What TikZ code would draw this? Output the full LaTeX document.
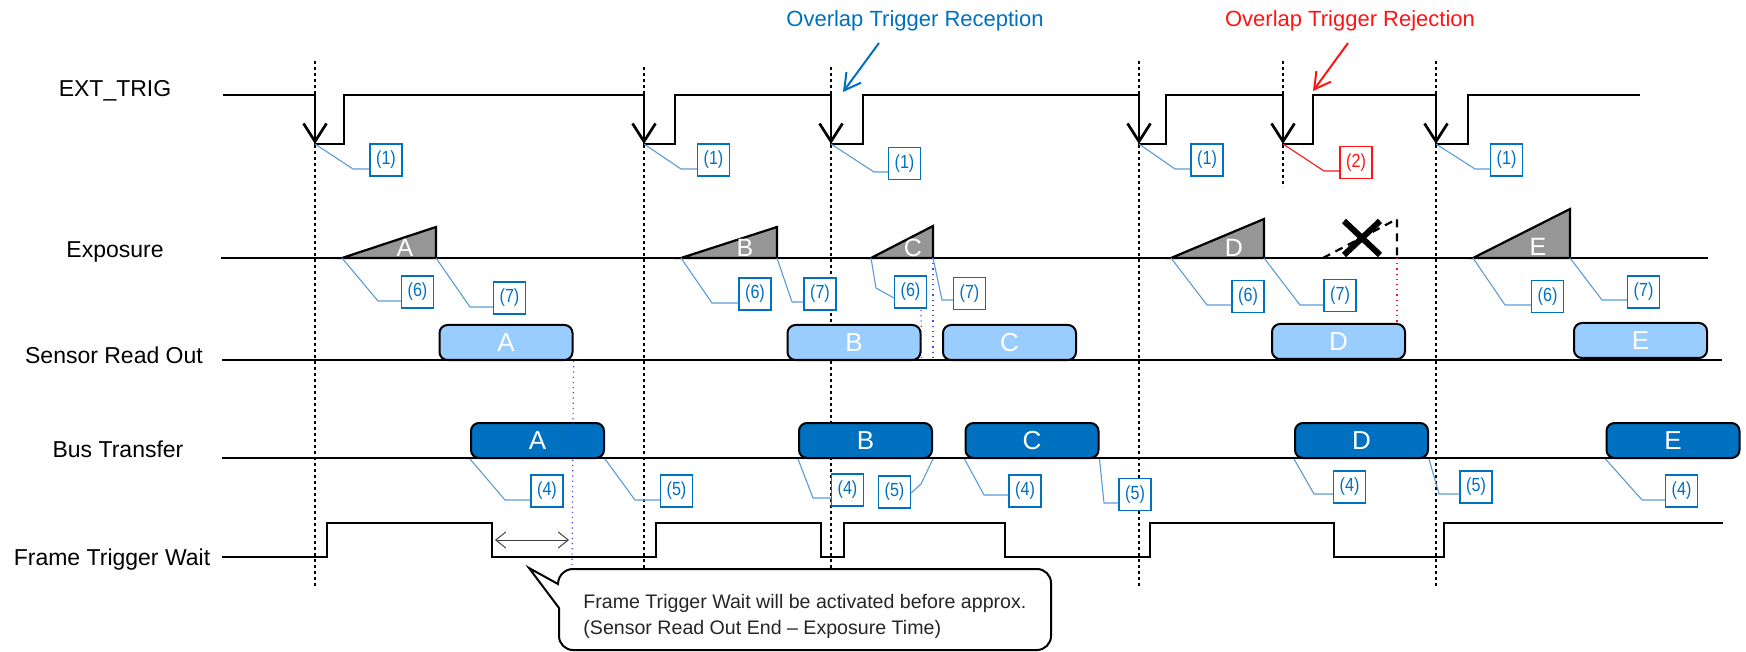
\documentclass[tikz,border=0pt]{standalone}
\usepackage{fontspec}
\setmainfont{Liberation Sans}
\newfontfamily\tagfont[FakeStretch=0.85]{Liberation Sans}
\usepackage{tikz}
\usetikzlibrary{arrows.meta}
\definecolor{tagblue}{RGB}{0,112,192}
\definecolor{leadblue}{RGB}{91,155,213}
\definecolor{readblue}{RGB}{153,204,255}
\definecolor{busblue}{RGB}{0,112,192}
\definecolor{expgray}{RGB}{150,150,150}
\definecolor{rejred}{RGB}{255,20,20}
\definecolor{guideblue}{RGB}{70,70,255}

\begin{document}
\begin{tikzpicture}[
        x=0.5pt, y=-0.5pt,
        rowlabel/.style={anchor=base, font=\fontsize{11.5}{13}\selectfont},
        sig/.style={line width=1.35pt},
        guide/.style={line width=1.4pt, dash pattern=on 1.3pt off 1.7pt},
        trigarrow/.style={sig, -{Straight Barb[length=9pt, width=11.5pt]}},
        numtag/.style={rectangle, draw=tagblue, text=tagblue, fill=white, line width=0.6pt, minimum width=16pt, minimum height=16pt, inner sep=0pt, font=\tagfont\fontsize{9.5}{11}\selectfont},
        redtag/.style={numtag, draw=rejred, text=rejred},
        lead/.style={draw=leadblue, line width=0.55pt},
        redlead/.style={draw=rejred, line width=0.55pt},
        expshape/.style={draw, fill=expgray, line width=1.1pt},
        letter/.style={anchor=base, text=white, font=\fontsize{12.5}{14}\selectfont},
        rdbox/.style={rectangle, rounded corners=4pt, draw, line width=1pt, fill=readblue, minimum width=66.5pt, minimum height=17.5pt, inner sep=0pt, text=white, font=\fontsize{13}{14}\selectfont},
        busbox/.style={rdbox, fill=busblue},
        marker/.style={draw=guideblue, line width=0.6pt, dotted},
        hint/.style={-{Straight Barb[length=8pt, width=9pt]}, line width=1pt},
        gap/.style={{Straight Barb[length=5pt, width=8pt]}-{Straight Barb[length=5pt, width=8pt]}, line width=0.5pt, draw=black!75},
        bubble/.style={draw, fill=white, line width=1pt}
    ]
        \useasboundingbox (0,0) rectangle (1746,652);

        \node[rowlabel] (trig) at (115,97) {EXT\_TRIG};
        \node[rowlabel] (exp) at (115,258) {Exposure};
        \node[rowlabel] (rdout) at (114,364) {Sensor Read Out};
        \node[rowlabel] (bus) at (118,457) {Bus Transfer};
        \node[rowlabel] (wait) at (112,565) {Frame Trigger Wait};

        \node[text=tagblue, anchor=base, font=\fontsize{11}{13}\selectfont] (rec) at (915,27) {Overlap Trigger Reception};
        \node[text=rejred, anchor=base, font=\fontsize{11}{13}\selectfont] (rej) at (1350,27) {Overlap Trigger Rejection};

        \draw[guide] (315,61) -- (315,588);
        \draw[guide] (644,67) -- (644,588);
        \draw[guide] (831,67) -- (831,588);
        \draw[guide] (1139,61) -- (1139,588);
        \draw[guide] (1283,61) -- (1283,187);
        \draw[guide] (1436,61) -- (1436,588);

        \coordinate (dn1) at (315,144);
        \coordinate (dn2) at (644,144);
        \coordinate (dn3) at (831,144);
        \coordinate (dn4) at (1139,144);
        \coordinate (dn5) at (1283,144);
        \coordinate (dn6) at (1436,144);

        \draw[sig] (223,95) -- (315,95) -- (dn1) -- (344,144) -- (344,95) -- (644,95) -- (dn2) -- (675,144) -- (675,95)
            -- (831,95) -- (dn3) -- (863,144) -- (863,95) -- (1139,95) -- (dn4) -- (1166,144) -- (1166,95)
            -- (1283,95) -- (dn5) -- (1313,144) -- (1313,95) -- (1436,95) -- (dn6) -- (1468,144) -- (1468,95) -- (1640,95);
        \draw[trigarrow] (315,95) -- (dn1);
        \draw[trigarrow] (644,95) -- (dn2);
        \draw[trigarrow] (831,95) -- (dn3);
        \draw[trigarrow] (1139,95) -- (dn4);
        \draw[trigarrow] (1283,95) -- (dn5);
        \draw[trigarrow] (1436,95) -- (dn6);

        \coordinate (recTip) at (843,92);
        \coordinate (rejTip) at (1313,91);
        \draw[hint, tagblue] (879,43) -- (recTip);
        \draw[hint, rejred] (1348,43) -- (rejTip);

        \coordinate (exA0) at (342,258);
        \coordinate (exA1) at (436,258);
        \coordinate (exB0) at (681,258);
        \coordinate (exB1) at (777,258);
        \coordinate (exC0) at (871,258);
        \coordinate (exC1) at (933,258);
        \coordinate (exD0) at (1171,258);
        \coordinate (exD1) at (1264,258);
        \coordinate (exE0) at (1473,258);
        \coordinate (exE1) at (1570,258);

        \draw[sig] (221,258) -- (1708,258);
        \draw[expshape] (exA0) -- (436,227) -- (exA1) -- cycle;
        \draw[expshape] (exB0) -- (777,227) -- (exB1) -- cycle;
        \draw[expshape] (exC0) -- (933,226) -- (exC1) -- cycle;
        \draw[expshape] (exD0) -- (1264,219) -- (exD1) -- cycle;
        \draw[expshape] (exE0) -- (1570,209) -- (exE1) -- cycle;
        \draw[line width=1.1pt, dash pattern=on 4pt off 3pt] (1323,258) -- (1397,219) -- (1397,258);
        \draw[line width=3pt] (1344,221) -- (1380,255);
        \draw[line width=3pt] (1344,255) -- (1380,221);
        \node[letter] (lA) at (405,257) {A};
        \node[letter] (lB) at (745,257) {B};
        \node[letter] (lC) at (913,257) {C};
        \node[letter] (lD) at (1234,257) {D};
        \node[letter] (lE) at (1538,256) {E};

        \draw[sig] (222,360) -- (1722,360);
        \draw[sig] (222,458) -- (1722,458);
        \draw[sig] (222,557) -- (327,557) -- (327,523) -- (492,523) -- (492,557) -- (656,557) -- (656,523) -- (821,523) -- (821,557)
            -- (844,557) -- (844,523) -- (1005,523) -- (1005,557) -- (1150,557) -- (1150,523) -- (1334,523) -- (1334,557)
            -- (1444,557) -- (1444,523) -- (1723,523);

        \node[rdbox] (rdA) at (506,342.5) {A};
        \node[rdbox] (rdB) at (854,342.5) {B};
        \node[rdbox] (rdC) at (1009.5,342.5) {C};
        \node[rdbox] (rdD) at (1338.5,341.5) {D};
        \node[rdbox] (rdE) at (1640.5,340.5) {E};

        \node[busbox] (busA) at (537.5,440.5) {A};
        \node[busbox] (busB) at (865.5,440.5) {B};
        \node[busbox] (busC) at (1032,440.5) {C};
        \node[busbox] (busD) at (1361.5,440.5) {D};
        \node[busbox] (busE) at (1673,440.5) {E};

        \draw[marker] (921,310) -- (rdB.south east);
        \draw[marker] (exC1) -- (933,358);
        \draw[marker, draw=rejred] (1397,258) -- (1397,325);
        \draw[marker] (rdA.south east) -- (572,569);

        \coordinate (gapL) at (495,540);
        \coordinate (gapR) at (569,540);
        \draw[gap] (gapL) -- (gapR);

        \draw[bubble] (529,568) -- (558,584) [rounded corners=7pt] -- (559,569) -- (1051,569) -- (1051,650) -- (559,650) [sharp corners] -- (559,608) -- cycle;
        \node[anchor=west, align=left, inner sep=0pt, text=black!85, font=\fontsize{9.8}{13}\selectfont] (note) at (583,616)
            {Frame Trigger Wait will be activated before approx.\\(Sensor Read Out End -- Exposure Time)};

        \node[numtag] (t1a) at (386,160) {(1)};
        \node[numtag] (t1b) at (713.5,160) {(1)};
        \node[numtag] (t1c) at (904.5,163.5) {(1)};
        \node[numtag] (t1d) at (1207,160) {(1)};
        \node[redtag] (t2) at (1356,162.5) {(2)};
        \node[numtag] (t1e) at (1506.5,160) {(1)};
        \draw[lead] (dn1) -- (353,169) -- (353,169 -| t1a.west);
        \draw[lead] (dn2) -- (681,169) -- (681,169 -| t1b.west);
        \draw[lead] (dn3) -- (874,172) -- (874,172 -| t1c.west);
        \draw[lead] (dn4) -- (1175,169) -- (1175,169 -| t1d.west);
        \draw[redlead] (dn5) -- (1324,171) -- (1324,171 -| t2.west);
        \draw[lead] (dn6) -- (1475,169) -- (1475,169 -| t1e.west);

        \node[numtag] (eA6) at (417.5,292) {(6)};
        \node[numtag] (eA7) at (509.5,298) {(7)};
        \node[numtag] (eB6) at (755,294) {(6)};
        \node[numtag] (eB7) at (820,294) {(7)};
        \node[numtag] (eC6) at (910.5,292) {(6)};
        \node[numtag] (eC7) at (969.5,293.5) {(7)};
        \node[numtag] (eD6) at (1248,296.5) {(6)};
        \node[numtag] (eD7) at (1340,295.5) {(7)};
        \node[numtag] (eE6) at (1547.5,296.5) {(6)};
        \node[numtag] (eE7) at (1643.5,292) {(7)};
        \draw[lead] (exA0) -- (378,301) -- (378,301 -| eA6.west);
        \draw[lead] (exA1) -- (470,307) -- (470,307 -| eA7.west);
        \draw[lead] (exB0) -- (712,303) -- (712,303 -| eB6.west);
        \draw[lead] (exB1) -- (792,302) -- (792,302 -| eB7.west);
        \draw[lead] (exC0) -- (876,288) -- (eC6.west |- 0,298);
        \draw[lead] (exC1) -- (942,300) -- (942,300 -| eC7.west);
        \draw[lead] (exD0) -- (1207,305) -- (1207,305 -| eD6.west);
        \draw[lead] (exD1) -- (1300,305) -- (1300,305 -| eD7.west);
        \draw[lead] (exE0) -- (1505,305) -- (1505,305 -| eE6.west);
        \draw[lead] (exE1) -- (1602,300) -- (1602,300 -| eE7.west);

        \node[numtag] (bA4) at (547,491) {(4)};
        \node[numtag] (bA5) at (676.5,491) {(5)};
        \node[numtag] (bB4) at (847.5,490) {(4)};
        \node[numtag] (bB5) at (894.5,492) {(5)};
        \node[numtag] (bC4) at (1025,491) {(4)};
        \node[numtag] (bC5) at (1135,494.5) {(5)};
        \node[numtag] (bD4) at (1349.5,487) {(4)};
        \node[numtag] (bD5) at (1476,487) {(5)};
        \node[numtag] (bE4) at (1681.5,491) {(4)};
        \draw[lead] (busA.south west) -- (505,500) -- (505,500 -| bA4.west);
        \draw[lead] (busA.south east) -- (635,500) -- (635,500 -| bA5.west);
        \draw[lead] (busB.south west) -- (813,498) -- (813,498 -| bB4.west);
        \draw[lead] (busB.south east) -- (921,484) -- (bB5.east |- 0,493);
        \draw[lead] (busC.south west) -- (984,495) -- (984,495 -| bC4.west);
        \draw[lead] (busC.south east) -- (1104,503) -- (1104,503 -| bC5.west);
        \draw[lead] (busD.south west) -- (1314,494) -- (1314,494 -| bD4.west);
        \draw[lead] (busD.south east) -- (1439,494) -- (1439,494 -| bD5.west);
        \draw[lead] (busE.south west) -- (1642,500) -- (1642,500 -| bE4.west);
    \end{tikzpicture}
\end{document}
